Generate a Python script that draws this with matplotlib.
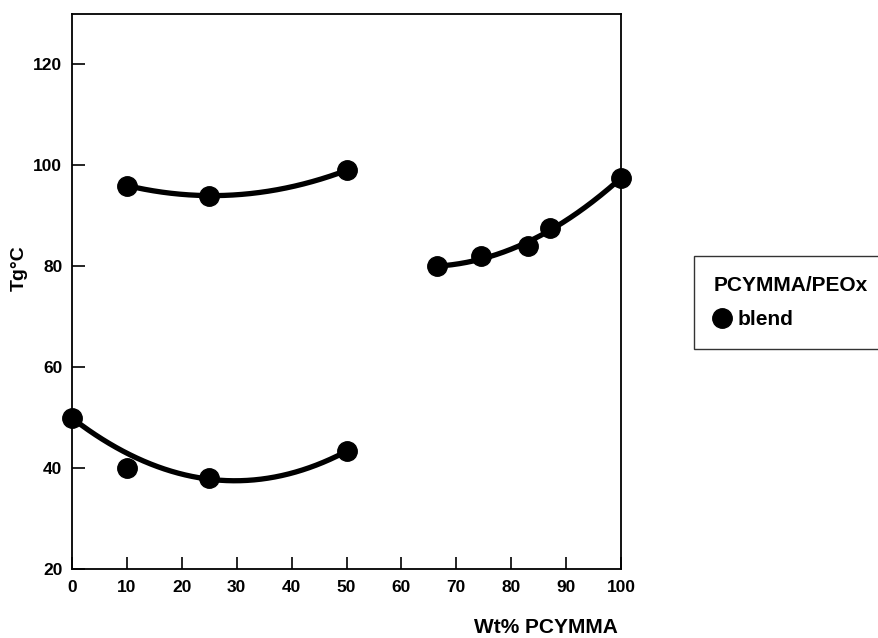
import numpy as np
import matplotlib
matplotlib.use("Agg")
import matplotlib.pyplot as plt

plt.rcParams['font.family'] = ['Liberation Sans', 'DejaVu Sans']

# Tg data (Wt% PCYMMA, Tg in C)
upper_x = [10, 25, 50]
upper_tg = [96, 94, 99]
lower_x = [0, 10, 25, 50]
lower_tg = [50, 40, 38, 43.3]
right_x = [66.5, 74.5, 83, 87, 100]
right_tg = [80, 82, 84, 87.5, 97.5]

x_ticks = [0, 10, 20, 30, 40, 50, 60, 70, 80, 90, 100]
y_ticks = [20, 40, 60, 80, 100, 120]

fig = plt.figure(figsize=(8.79, 6.38), dpi=100)
ax = fig.add_axes([0.0819, 0.1082, 0.6246, 0.8699])

# hand-drawn style smooth curves: weighted quadratic fits
groups = [(upper_x, upper_tg, None),
          (lower_x, lower_tg, [4, 1, 3, 4]),
          (right_x, right_tg, [3, 1, 1, 1, 3])]
for xs, ys, w in groups:
    coef = np.polyfit(xs, ys, 2, w=w)
    xx = np.linspace(min(xs), max(xs), 200)
    ax.plot(xx, np.polyval(coef, xx), color='black', lw=3.8, solid_capstyle='round', zorder=2)

ax.plot(upper_x, upper_tg, 'o', color='black', ms=14, zorder=3, label='blend')
ax.plot(lower_x, lower_tg, 'o', color='black', ms=14, zorder=3, clip_on=False)
ax.plot(right_x, right_tg, 'o', color='black', ms=14, zorder=3, clip_on=False)

ax.set_xlim(0, 100)
ax.set_ylim(20, 130)
ax.set_xticks(x_ticks)
ax.set_yticks(y_ticks)
ax.tick_params(direction='in', length=9, width=1.2, labelsize=12.5)
ax.tick_params(axis='x', pad=8)
ax.tick_params(axis='y', pad=7)
for lab in ax.get_xticklabels() + ax.get_yticklabels():
    lab.set_fontweight('bold')
for s in ax.spines.values():
    s.set_linewidth(1.3)

fig.text(0.621, 0.008, 'Wt% PCYMMA', fontsize=15, fontweight='bold', ha='center', va='baseline')
fig.text(0.022, 0.58, 'Tg°C', fontsize=14, fontweight='bold', rotation=90, va='center', ha='center')

leg = fig.legend(loc='upper left', bbox_to_anchor=(0.7895, 0.5987), title='PCYMMA/PEOx',
                 frameon=True, fancybox=False, edgecolor='black', fontsize=15,
                 title_fontsize=15, handletextpad=0.35, handlelength=0.8,
                 borderpad=0.95, labelspacing=0.75, alignment='left',
                 borderaxespad=0.0)
leg.get_frame().set_linewidth(1.0)
for t in leg.get_texts():
    t.set_fontweight('bold')
leg.get_title().set_fontweight('bold')

fig.savefig('out.png', dpi=100)
